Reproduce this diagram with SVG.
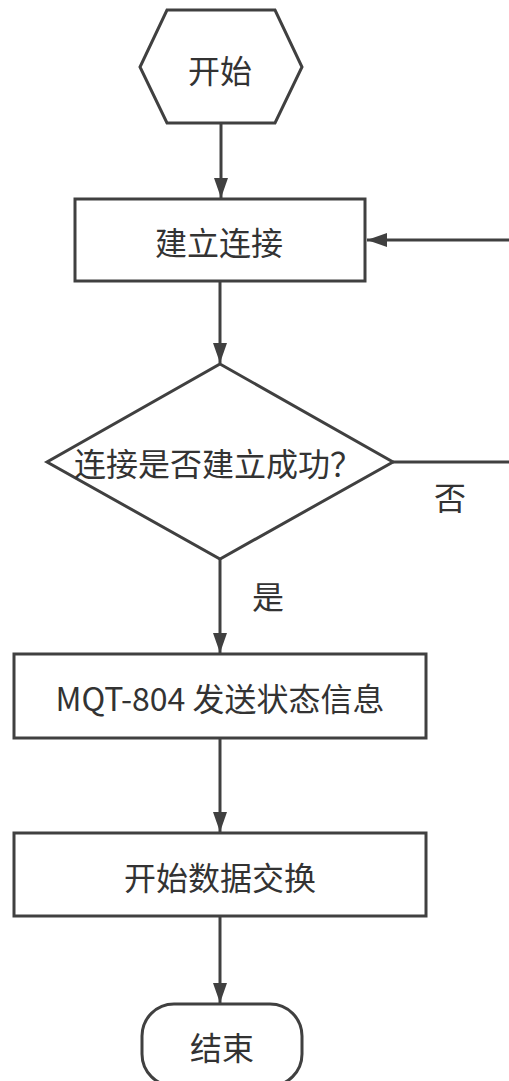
<svg xmlns="http://www.w3.org/2000/svg" width="509" height="1081" viewBox="0 0 509 1081">
<defs>
<style>
.shape{fill:#fff;stroke:#404040;stroke-width:3}
.edge{fill:none;stroke:#404040;stroke-width:3}
.t{font-family:"Noto Sans CJK SC","Microsoft YaHei",sans-serif;font-size:32px;fill:#333;text-anchor:middle;dominant-baseline:central}
</style>
<marker id="ah" markerWidth="20" markerHeight="14" refX="20" refY="7" orient="auto" markerUnits="userSpaceOnUse">
<path d="M0,0 L20,7 L0,14 Z" fill="#404040"/>
</marker>
</defs>
<rect width="509" height="1081" fill="#fff"/>
<g id="connectors">
<line class="edge" x1="221" y1="123" x2="221" y2="198" marker-end="url(#ah)"/>
<line class="edge" x1="220" y1="281" x2="220" y2="363" marker-end="url(#ah)"/>
<line class="edge" x1="509" y1="240" x2="367" y2="240" marker-end="url(#ah)"/>
<line class="edge" x1="393" y1="462" x2="509" y2="462"/>
<line class="edge" x1="220" y1="559" x2="220" y2="653" marker-end="url(#ah)"/>
<line class="edge" x1="220" y1="738" x2="220" y2="832" marker-end="url(#ah)"/>
<line class="edge" x1="220" y1="916" x2="220" y2="1003" marker-end="url(#ah)"/>
<text class="t" x="450" y="496">否</text>
<text class="t" x="268" y="595">是</text>
</g>
<g id="start">
<polygon class="shape" points="167,10 275,10 302,67 275,123 167,123 140,67"/>
<text class="t" x="220" y="69">开始</text>
</g>
<g id="connect">
<rect class="shape" x="75" y="199" width="290" height="82"/>
<text class="t" x="219" y="241">建立连接</text>
</g>
<g id="decision">
<polygon class="shape" points="220,364 393,462 220,559 47,462"/>
<text class="t" x="218" y="462">连接是否建立成功？</text>
</g>
<g id="send">
<rect class="shape" x="14" y="654" width="412" height="84"/>
<text class="t" x="220" y="697">MQT-804 发送状态信息</text>
</g>
<g id="exchange">
<rect class="shape" x="14" y="833" width="412" height="83"/>
<text class="t" x="220" y="876">开始数据交换</text>
</g>
<g id="end">
<rect class="shape" x="142" y="1004" width="160" height="82" rx="32"/>
<text class="t" x="222" y="1046">结束</text>
</g>
</svg>
